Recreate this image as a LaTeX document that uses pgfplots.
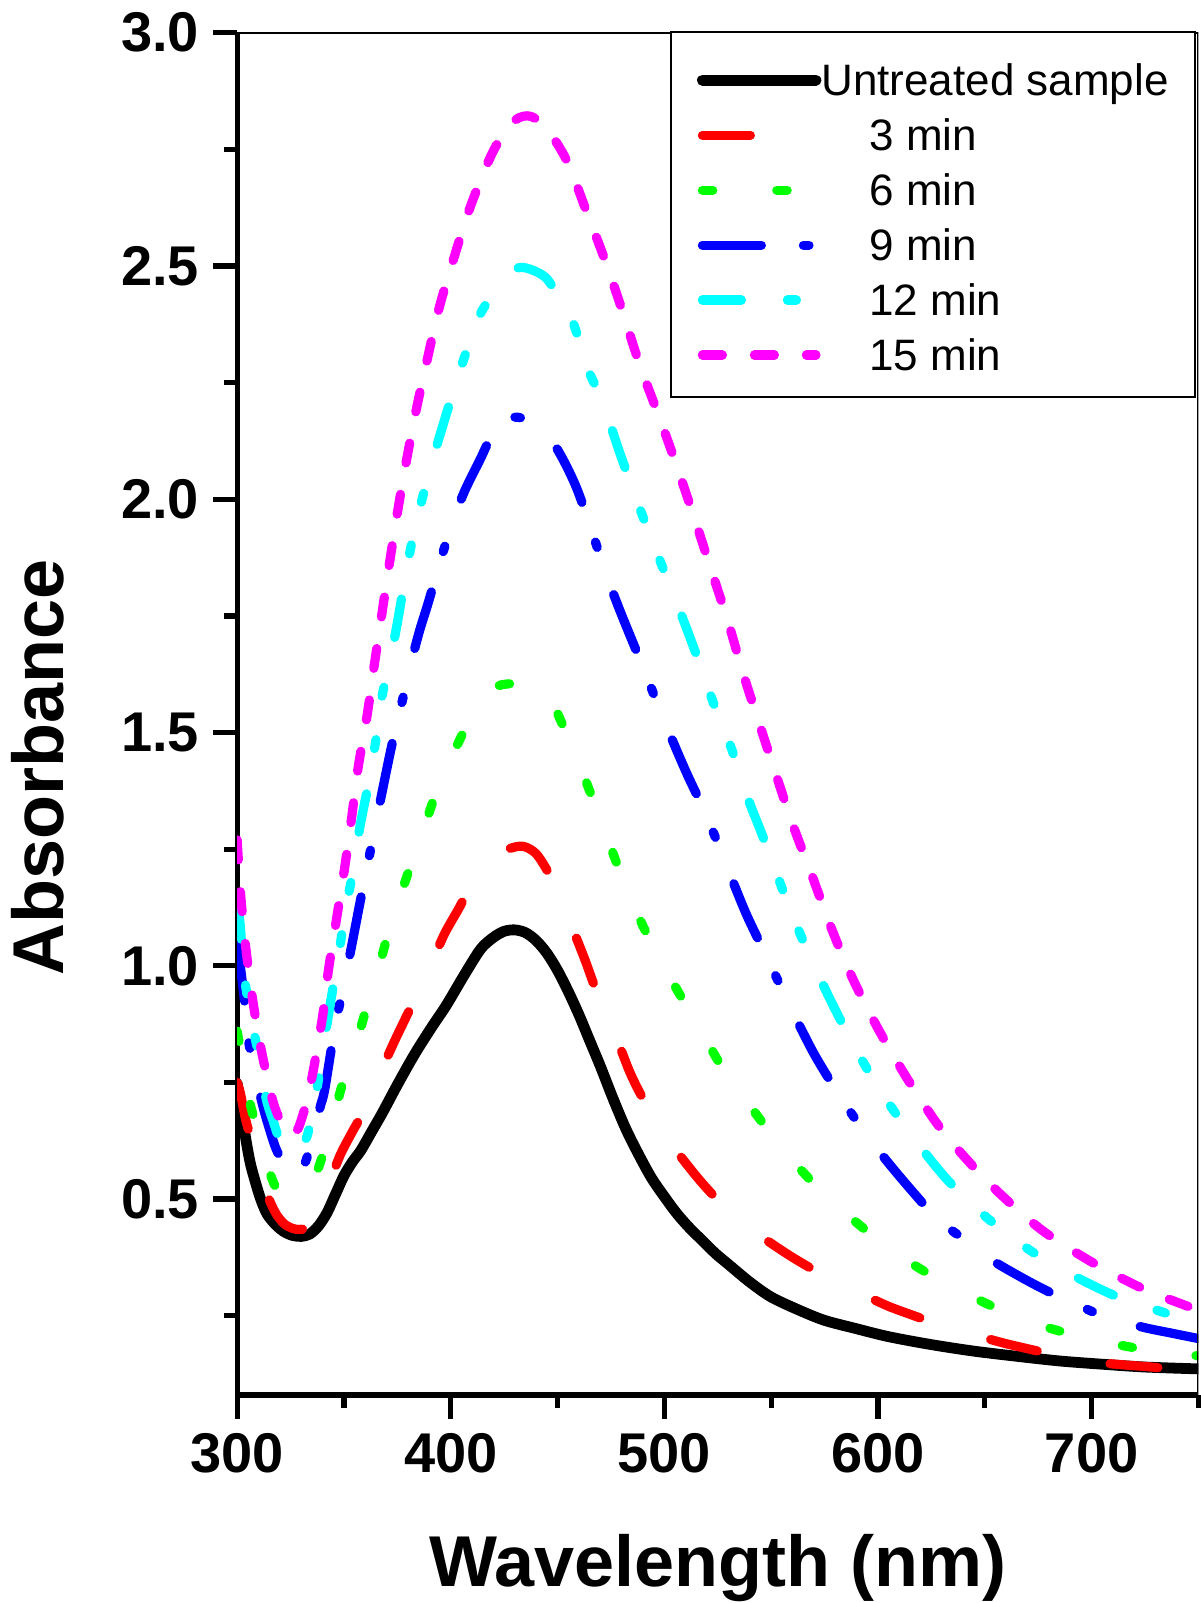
\documentclass[border=0pt]{standalone}
\usepackage{fontspec}
\setmainfont{Liberation Sans}
\usepackage{pgfplots}
\pgfplotsset{compat=1.18}
\definecolor{cRed}{RGB}{255,0,0}
\definecolor{cGreen}{RGB}{0,255,0}
\definecolor{cBlue}{RGB}{0,0,255}
\definecolor{cCyan}{RGB}{0,255,255}
\definecolor{cMag}{RGB}{255,0,255}

\begin{document}
\begin{tikzpicture}
\begin{axis}[
  scale only axis, width=240.35pt, height=340.6pt,
  xmin=300, xmax=750, ymin=0.08, ymax=3.0,
  axis x line*=bottom, axis y line*=left,
  axis line style={-, line width=1.3pt},
  tick align=outside,
  xtick={300,400,500,600,700}, minor xtick={350,450,550,650,750},
  ytick={0.5,1.0,1.5,2.0,2.5,3.0},
  minor ytick={0.25,0.75,1.25,1.75,2.25,2.75},
  major tick length=6pt, minor tick length=3.2pt,
  every tick/.style={black, line width=1.3pt},
  /pgf/number format/assume math mode=true,
  ticklabel style={font=\fontsize{14}{16}\selectfont\bfseries},
  yticklabel style={/pgf/number format/.cd, fixed, fixed zerofill, precision=1},
  xticklabel style={/pgf/number format/.cd, fixed, precision=0, 1000 sep={}},
  xlabel={Wavelength (nm)}, ylabel={Absorbance},
  label style={font=\fontsize{18}{21}\selectfont\bfseries},
  xlabel style={at={(axis description cs:0.5,-0.1406)}, anchor=base},
  ylabel style={at={(axis description cs:-0.181,0.461)}, anchor=base},
  legend cell align=left,
  legend style={at={(rel axis cs:0.9975,1.0015)}, anchor=north east,
    draw=black, line width=0.5pt, fill=white,
    font=\fontsize{11}{13}\selectfont,
    inner xsep=6.6pt, inner ysep=5.35pt, row sep=1.95pt, column sep=0pt,
    nodes={inner sep=0pt, text height=10.5pt, text depth=1.3pt},
    cells={anchor=base west}},
  legend image code/.code={\draw[#1] (0pt,3.75pt) -- (28.4pt,3.75pt);},
  every axis plot/.append style={smooth, line cap=round, line join=round},
]
\addplot[black, line width=2.7pt] coordinates {
(300,0.748) (302,0.69) (304,0.63) (306,0.58) (308,0.545) (311,0.5) (314,0.468)
(318,0.445) (322,0.43) (326,0.422) (330,0.42) (334,0.425) (338,0.442) (342,0.47)
(346,0.51) (350,0.55) (354,0.58) (358,0.605) (363,0.645) (368,0.685) (375,0.745)
(383,0.81) (391,0.868) (398,0.916) (406,0.978) (414,1.036) (420,1.061) (425,1.074)
(430,1.077) (435,1.071) (440,1.054) (445,1.027) (450,0.99) (455,0.945) (460,0.895)
(465,0.84) (470,0.785) (476,0.715) (482,0.65) (488,0.595) (494,0.545) (500,0.505)
(506,0.468) (512,0.437) (518,0.41) (524,0.383) (530,0.36) (540,0.322) (550,0.29)
(563,0.262) (575,0.24) (590,0.222) (605,0.205) (625,0.188) (645,0.174) (665,0.163)
(685,0.153) (705,0.146) (725,0.14) (750,0.136)};
\addlegendentry{Untreated sample}
\addplot[cRed, line width=2.3pt, dash pattern=on 12pt off 18.5pt] coordinates {
(300,0.75) (301.5,0.727) (304,0.67) (307,0.62) (310,0.565) (314,0.51) (318,0.47)
(322,0.447) (326,0.437) (329,0.435) (332,0.438) (336.5,0.46) (342,0.52) (348,0.592)
(354,0.645) (360.7,0.70) (367,0.77) (373,0.832) (378,0.88) (384,0.937) (390,0.995)
(397,1.068) (404,1.125) (410,1.178) (416,1.212) (422,1.237) (428,1.252) (434,1.256)
(440,1.24) (446,1.197) (451,1.145) (457,1.08) (462.8,1.013) (467,0.96) (472,0.905)
(478,0.84) (484,0.77) (490,0.715) (496.6,0.665) (502,0.627) (507,0.595) (513,0.56)
(518.3,0.531) (525,0.498) (533,0.465) (541.6,0.432) (550,0.405) (560,0.375)
(570.4,0.347) (582,0.318) (594,0.293) (605,0.27) (615,0.253) (623,0.24) (635,0.222)
(648,0.205) (660,0.19) (676,0.173) (688,0.161) (700,0.151) (714,0.145) (728,0.14)
(740,0.135) (750,0.131)};
\addlegendentry{\hspace*{12pt}3 min}
\addplot[cGreen, line width=2.3pt, dash pattern=on 2.6pt off 16pt] coordinates {
(300,0.86) (301.5,0.82) (304,0.745) (307.8,0.673) (312,0.6) (317.9,0.526) (322,0.508)
(326,0.503) (330,0.51) (334,0.53) (338.2,0.569) (343,0.64) (347.4,0.716) (352,0.79)
(357.5,0.862) (362,0.935) (366.9,1.006) (371,1.075) (376.2,1.148) (382,1.225)
(387.2,1.291) (393,1.37) (399.6,1.44) (408,1.52) (415.2,1.578) (422,1.6) (430,1.605)
(437,1.6) (444.9,1.588) (452,1.52) (459.3,1.443) (465,1.375) (471.5,1.299) (477,1.228)
(483.2,1.156) (490,1.085) (498.2,1.012) (507,0.94) (516.5,0.867) (526,0.79)
(537.1,0.719) (549,0.645) (561.3,0.576) (576,0.505) (592.5,0.44) (608,0.385)
(624,0.339) (640,0.3) (655.5,0.266) (670,0.238) (686.7,0.215) (702,0.198)
(717.9,0.183) (733,0.173) (750,0.164)};
\addlegendentry{\hspace*{12pt}6 min}
\addplot[cBlue, line width=2.3pt, dash pattern=on 14.75pt off 10.5pt on 1.4pt off 12.5pt] coordinates {
(300,1.05) (302.3,0.969) (304,0.9) (305.4,0.837) (307.5,0.79) (309.3,0.751) (312,0.7)
(314,0.667) (318,0.61) (322,0.575) (325.7,0.562) (328.6,0.557) (332,0.58)
(336.5,0.65) (339,0.7) (341,0.735) (345.8,0.87) (349.7,0.953) (353.6,1.043)
(359,1.171) (363,1.261) (366.9,1.351) (372.4,1.473) (377,1.562) (381.7,1.654)
(385.3,1.717) (389.5,1.779) (395,1.866) (401.2,1.956) (406.7,2.02) (413.7,2.085)
(419,2.135) (425,2.167) (430,2.176) (436,2.17) (444.1,2.147) (452,2.09) (459,2.023)
(466,1.932) (472.2,1.846) (478,1.775) (483.1,1.717) (490.9,1.63) (498.6,1.54)
(505,1.47) (511,1.407) (519.2,1.327) (527.2,1.237) (533,1.17) (538.9,1.105)
(547.9,1.019) (556.8,0.933) (564,0.865) (571.2,0.802) (582.9,0.715) (596,0.629)
(608,0.56) (619.6,0.498) (628,0.455) (638.4,0.42) (648,0.385) (657.2,0.358)
(672,0.32) (686,0.288) (704.7,0.251) (723.4,0.226) (737,0.213) (750,0.201)};
\addlegendentry{\hspace*{12pt}9 min}
\addplot[cCyan, line width=2.3pt, dash pattern=on 9.75pt off 11.5pt on 2.25pt off 11pt on 2.25pt off 12.75pt] coordinates {
(300,1.14) (301.5,1.084) (303,0.99) (306.2,0.894) (310,0.81) (313.5,0.717) (317,0.665)
(320,0.625) (323,0.605) (325,0.6) (328,0.605) (331,0.62) (333.3,0.644) (337.3,0.735)
(341.1,0.848) (344,0.93) (347.4,1.021) (350.5,1.111) (354.4,1.209) (357.5,1.299)
(361.4,1.389) (365,1.486) (367.7,1.575) (373.9,1.708) (379,1.842) (383.3,1.94)
(390.8,2.073) (399.6,2.208) (406.5,2.306) (413.7,2.396) (420.7,2.445) (427.7,2.487)
(433,2.497) (439,2.49) (444.9,2.473) (451,2.43) (457.4,2.377) (463.6,2.286)
(468,2.24) (472.2,2.195) (478.4,2.109) (486.2,2.009) (493.3,1.922) (501.1,1.832)
(508.9,1.741) (516.7,1.645) (523.7,1.554) (531.6,1.463) (538,1.372) (546,1.278)
(553.3,1.188) (561.3,1.093) (569.4,1.007) (579.2,0.913) (590,0.818) (601.7,0.728)
(615,0.641) (632.1,0.543) (651.5,0.458) (672.2,0.387) (691,0.337) (711.3,0.292)
(730.4,0.262) (750,0.233)};
\addlegendentry{\hspace*{12pt}12 min}
\addplot[cMag, line width=2.3pt, dash pattern=on 5pt off 8pt] coordinates {
(300,1.27) (301.5,1.16) (303.8,1.048) (307,0.935) (311,0.826) (316.4,0.715) (320,0.67)
(323,0.645) (325.7,0.638) (328.6,0.652) (332,0.7) (335.2,0.765) (339.9,0.889)
(342.7,0.99) (346.6,1.103) (350.5,1.216) (353.6,1.318) (356.7,1.427) (360.7,1.533)
(364.1,1.642) (367.7,1.753) (371.2,1.86) (375,1.971) (379,2.077) (383.7,2.189)
(389,2.3) (394.6,2.411) (401.5,2.518) (409.3,2.629) (419.2,2.74) (428,2.805)
(436,2.822) (444,2.8) (454.3,2.726) (463.6,2.616) (472.7,2.506) (480.5,2.401)
(488.6,2.286) (497.6,2.176) (505.8,2.071) (514.3,1.956) (522.1,1.846) (529.9,1.736)
(536.9,1.626) (544.5,1.518) (552.3,1.409) (560.3,1.3) (569.3,1.191) (578.2,1.08)
(588.2,0.972) (600.4,0.862) (614.8,0.75) (630.7,0.643) (652,0.534) (676,0.436)
(699.3,0.367) (723.5,0.309) (745.7,0.269) (750,0.262)};
\addlegendentry{\hspace*{12pt}15 min}
\draw[line width=0.5pt] (rel axis cs:0,1) -- (rel axis cs:1,1) -- (rel axis cs:1,0);
\end{axis}
\pgfresetboundingbox
\path (-59.3pt,-52pt) rectangle (240.75pt,348.8pt);
\end{tikzpicture}
\end{document}
